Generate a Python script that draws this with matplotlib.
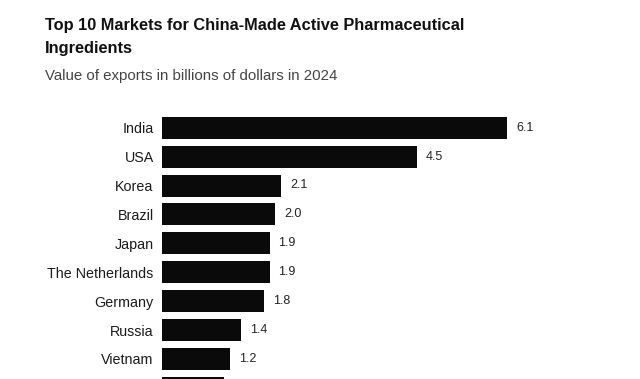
import matplotlib.pyplot as plt

# 数据
countries = ['India', 'USA', 'Korea', 'Brazil', 'Japan', 'The Netherlands',
             'Germany', 'Russia', 'Vietnam', 'Italy']
values = [6.1, 4.5, 2.1, 2.0, 1.9, 1.9, 1.8, 1.4, 1.2, 1.1]

W, H = 640, 379
fig = plt.figure(figsize=(W / 100, H / 100), dpi=100)
plt.rcParams['font.family'] = ['Liberation Sans', 'DejaVu Sans']

# 坐标轴位置（像素换算）
left_px, top_px = 162, 100
ax = fig.add_axes([left_px / W, 0, 1 - left_px / W, (H - top_px) / H])
px_per_unit = 56.6
pitch = 28.9

y = list(range(len(countries)))
ax.barh(y, values, height=22 / pitch, color='#0a0a0a')

# 最后一根条被图底裁掉，数值标签随坐标轴裁剪
for yi, v in zip(y, values):
    ax.text(v + 9 / px_per_unit, yi, f'{v:.1f}', va='center', ha='left',
            fontsize=9, color='#222222', clip_on=True)

ax.set_yticks(y)
ax.set_yticklabels(countries, fontsize=10.3, color='#1a1a1a')
ax.tick_params(axis='y', length=0, pad=6)
ax.set_xticks([])
for s in ax.spines.values():
    s.set_visible(False)

# 刻度设好之后再定范围
ax.set_xlim(0, (W - left_px) / px_per_unit)
ax.set_ylim((H - 127.7) / pitch, (top_px - 127.7) / pitch)

# 标题
fig.text(45 / W, 1 - 30 / H, 'Top 10 Markets for China-Made Active Pharmaceutical',
         fontsize=11.8, fontweight='bold', color='#111111', va='baseline')
fig.text(45 / W, 1 - 53 / H, 'Ingredients',
         fontsize=11.8, fontweight='bold', color='#111111', va='baseline')
fig.text(45 / W, 1 - 80 / H, 'Value of exports in billions of dollars in 2024',
         fontsize=10.8, color='#444444', va='baseline')

plt.savefig('out.png', dpi=100)
plt.close()
